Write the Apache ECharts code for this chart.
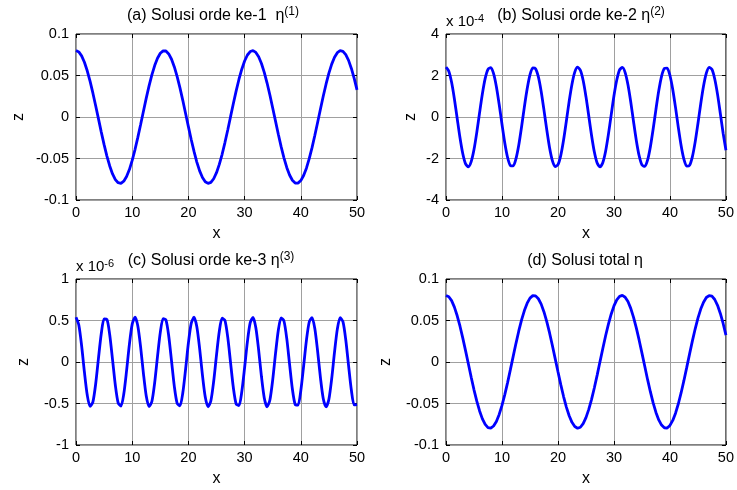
<!DOCTYPE html>
<html>
<head>
<meta charset="utf-8">
<script src="https://cdn.jsdelivr.net/npm/echarts@6/dist/echarts.min.js"></script>
<style>
html,body{margin:0;padding:0;background:#fff;}
#chart{width:737px;height:490px;}
</style>
</head>
<body>
<div id="chart"></div>
<script>
// x sample positions (0 .. 50)
const xs = [0,0.5,1,1.5,2,2.5,3,3.5,4,4.5,5,5.5,6,6.5,7,7.5,8,8.5,9,9.5,10,10.5,11,11.5,12,12.5,13,13.5,14,14.5,15,15.5,16,16.5,17,17.5,18,18.5,19,19.5,20,20.5,21,21.5,22,22.5,23,23.5,24,24.5,25,25.5,26,26.5,27,27.5,28,28.5,29,29.5,30,30.5,31,31.5,32,32.5,33,33.5,34,34.5,35,35.5,36,36.5,37,37.5,38,38.5,39,39.5,40,40.5,41,41.5,42,42.5,43,43.5,44,44.5,45,45.5,46,46.5,47,47.5,48,48.5,49,49.5,50];

// (a) first-order solution
const solA = [0.0800,0.0784,0.0737,0.0660,0.0557,0.0432,0.0290,0.0136,-0.0023,-0.0182,-0.0333,-0.0471,-0.0590,-0.0686,-0.0754,-0.0792,-0.0799,-0.0773,-0.0717,-0.0633,-0.0523,-0.0392,-0.0246,-0.0090,0.0070,0.0227,0.0375,0.0508,0.0620,0.0708,0.0768,0.0797,0.0795,0.0760,0.0696,0.0603,0.0487,0.0351,0.0201,0.0043,-0.0116,-0.0271,-0.0415,-0.0543,-0.0649,-0.0729,-0.0780,-0.0800,-0.0788,-0.0744,-0.0671,-0.0571,-0.0449,-0.0308,-0.0156,0.0004,0.0162,0.0315,0.0455,0.0576,0.0675,0.0747,0.0789,0.0800,0.0778,0.0726,0.0645,0.0538,0.0409,0.0265,0.0109,-0.0050,-0.0208,-0.0357,-0.0492,-0.0608,-0.0699,-0.0762,-0.0795,-0.0797,-0.0766,-0.0705,-0.0616,-0.0502,-0.0369,-0.0220,-0.0063,0.0097,0.0253,0.0398,0.0528,0.0637,0.0720,0.0775,0.0799,0.0791,0.0751,0.0682,0.0585,0.0465,0.0326];

// (b) second-order solution, in units of 1e-4
const solB = [2.40,2.21,1.67,0.87,-0.07,-1.00,-1.77,-2.26,-2.40,-2.15,-1.57,-0.74,0.21,1.12,1.86,2.30,2.38,2.09,1.46,0.60,-0.35,-1.25,-1.95,-2.34,-2.36,-2.01,-1.35,-0.47,0.49,1.36,2.03,2.37,2.33,1.93,1.23,0.33,-0.62,-1.48,-2.10,-2.39,-2.30,-1.85,-1.11,-0.19,0.76,1.58,2.16,2.40,2.25,1.76,0.98,0.05,-0.89,-1.69,-2.22,-2.40,-2.20,-1.66,-0.85,0.09,1.02,1.78,2.27,2.39,2.14,1.55,0.72,-0.23,-1.14,-1.87,-2.31,-2.38,-2.08,-1.44,-0.58,0.37,1.26,1.96,2.34,2.36,2.00,1.33,0.45,-0.51,-1.38,-2.04,-2.37,-2.33,-1.92,-1.21,-0.31,0.64,1.49,2.11,2.39,2.29,1.83,1.09,0.17,-0.78,-1.60];

// (c) third-order solution, in units of 1e-6
const solC = [0.540,0.446,0.196,-0.123,-0.398,-0.535,-0.484,-0.265,0.047,0.343,0.518,0.513,0.329,0.029,-0.280,-0.492,-0.532,-0.386,-0.105,0.212,0.456,0.540,0.435,0.179,-0.140,-0.410,-0.537,-0.476,-0.249,0.065,0.357,0.523,0.507,0.314,0.011,-0.296,-0.499,-0.528,-0.373,-0.087,0.229,0.465,0.539,0.424,0.161,-0.158,-0.422,-0.539,-0.467,-0.232,0.083,0.370,0.527,0.501,0.299,-0.007,-0.311,-0.506,-0.524,-0.359,-0.069,0.245,0.474,0.537,0.413,0.144,-0.175,-0.433,-0.540,-0.458,-0.216,0.101,0.383,0.531,0.494,0.284,-0.025,-0.326,-0.512,-0.520,-0.346,-0.051,0.261,0.482,0.535,0.401,0.126,-0.192,-0.443,-0.540,-0.448,-0.199,0.119,0.396,0.534,0.486,0.268,-0.043,-0.340,-0.517,-0.514];

// (d) total solution
const solD = [0.0802,0.0786,0.0739,0.0661,0.0557,0.0431,0.0288,0.0134,-0.0025,-0.0184,-0.0335,-0.0472,-0.0590,-0.0685,-0.0752,-0.0790,-0.0797,-0.0771,-0.0716,-0.0632,-0.0523,-0.0393,-0.0248,-0.0092,0.0068,0.0225,0.0374,0.0508,0.0620,0.0709,0.0770,0.0799,0.0797,0.0762,0.0697,0.0603,0.0486,0.0350,0.0199,0.0041,-0.0118,-0.0273,-0.0416,-0.0543,-0.0648,-0.0727,-0.0778,-0.0798,-0.0786,-0.0742,-0.0670,-0.0571,-0.0450,-0.0310,-0.0158,0.0002,0.0160,0.0313,0.0454,0.0576,0.0676,0.0749,0.0791,0.0802,0.0780,0.0728,0.0646,0.0538,0.0408,0.0263,0.0107,-0.0052,-0.0210,-0.0358,-0.0493,-0.0608,-0.0698,-0.0760,-0.0793,-0.0795,-0.0764,-0.0704,-0.0616,-0.0503,-0.0370,-0.0222,-0.0065,0.0095,0.0251,0.0397,0.0528,0.0638,0.0721,0.0777,0.0801,0.0793,0.0753,0.0683,0.0585,0.0464,0.0324];

const titles = ['(a) Solusi orde ke-1  \u03b7{s|(1)}', '(b) Solusi orde ke-2 \u03b7{s|(2)}', '(c) Solusi orde ke-3 \u03b7{s|(3)}', '(d) Solusi total \u03b7'];
const multipliers = ['', 'x 10{m|-4}', 'x 10{m|-6}', ''];
const yRanges = [[-0.1, 0.1, 0.05], [-4, 4, 2], [-1, 1, 0.5], [-0.1, 0.1, 0.05]];
const xRange = [0, 50, 10];
const xLabel = 'x';
const yLabel = 'z';
const seriesData = [solA, solB, solC, solD];

// layout
const panels = [
  {left: 76, top: 34, titleX: 213, yGap: 49},
  {left: 446, top: 34, titleX: 581, yGap: 27},
  {left: 76, top: 279, titleX: 211, yGap: 44},
  {left: 446, top: 279, titleX: 585, yGap: 52}
];
const W = 281, H = 166;
const FONT = '"Liberation Sans", Arial, sans-serif';
const TICK_FS = 14.5, TITLE_FS = 16;
const richTitle = {s: {fontSize: 12, fontFamily: FONT, color: '#000', verticalAlign: 'top', lineHeight: 12}};
const richMult = {m: {fontSize: 11, fontFamily: FONT, color: '#000', verticalAlign: 'top', lineHeight: 11}};

const option = {
  animation: false,
  backgroundColor: '#fff',
  title: [],
  grid: [],
  xAxis: [],
  yAxis: [],
  series: []
};

panels.forEach((p, i) => {
  option.grid.push({left: p.left, top: p.top, width: W, height: H, show: true, borderColor: '#000', borderWidth: 1, backgroundColor: 'transparent'});
  option.title.push({
    text: titles[i], left: p.titleX, top: p.top - 28, textAlign: 'center', padding: 0,
    textStyle: {fontFamily: FONT, fontSize: TITLE_FS, fontWeight: 'normal', color: '#000', lineHeight: 20, rich: richTitle}
  });
  if (multipliers[i]) {
    option.title.push({
      text: multipliers[i], left: p.left, top: p.top - 21, padding: 0,
      textStyle: {fontFamily: FONT, fontSize: 15, fontWeight: 'normal', color: '#000', lineHeight: 18, rich: richMult}
    });
  }
  const tick = {show: true, inside: true, length: 4, lineStyle: {color: '#000', width: 1}};
  const noLine = {show: false, onZero: false};
  option.xAxis.push({
    type: 'value', gridIndex: i, position: 'bottom', min: xRange[0], max: xRange[1], interval: xRange[2],
    axisLine: noLine, axisTick: tick,
    splitLine: {show: true, lineStyle: {color: '#a0a0a0', width: 1}},
    axisLabel: {fontFamily: FONT, fontSize: TICK_FS, color: '#000', margin: 5},
    name: xLabel, nameLocation: 'middle', nameGap: 26,
    nameTextStyle: {fontFamily: FONT, fontSize: TITLE_FS, color: '#000'}
  });
  option.xAxis.push({
    type: 'value', gridIndex: i, position: 'top', min: xRange[0], max: xRange[1], interval: xRange[2],
    axisLine: noLine, axisTick: tick, splitLine: {show: false}, axisLabel: {show: false}
  });
  const yr = yRanges[i];
  option.yAxis.push({
    type: 'value', gridIndex: i, position: 'left', min: yr[0], max: yr[1], interval: yr[2],
    axisLine: noLine, axisTick: tick,
    splitLine: {show: true, lineStyle: {color: '#a0a0a0', width: 1}},
    axisLabel: {fontFamily: FONT, fontSize: TICK_FS, color: '#000', margin: 7},
    name: yLabel, nameLocation: 'middle', nameGap: p.yGap,
    nameTextStyle: {fontFamily: FONT, fontSize: TITLE_FS, color: '#000'}
  });
  option.yAxis.push({
    type: 'value', gridIndex: i, position: 'right', min: yr[0], max: yr[1], interval: yr[2],
    axisLine: noLine, axisTick: tick, splitLine: {show: false}, axisLabel: {show: false}
  });
  option.series.push({
    type: 'line', xAxisIndex: 2 * i, yAxisIndex: 2 * i, showSymbol: false, symbol: 'none',
    smooth: (i === 1 || i === 2) ? 0.25 : false,
    lineStyle: {color: '#0000ff', width: 2.8},
    data: xs.map((x, k) => [x, seriesData[i][k]])
  });
});

const chart = echarts.init(document.getElementById('chart'), null, {renderer: 'canvas'});
chart.setOption(option);
</script>
</body>
</html>
